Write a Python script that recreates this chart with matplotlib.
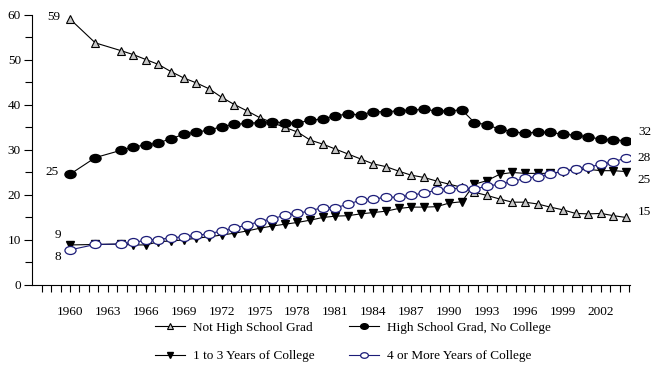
import numpy as np
import matplotlib
matplotlib.use("Agg")
from matplotlib import pyplot as plt
from matplotlib.path import Path
from matplotlib.transforms import Affine2D

plt.rcParams['font.family'] = ['Liberation Serif', 'DejaVu Serif']

years = [1960, 1962] + list(range(1964, 2005))

not_hs = [59.1, 53.8, 52.1, 51.2, 50.1, 49.0, 47.4, 46.0, 44.9, 43.6,
          41.7, 40.1, 38.7, 37.2, 36.1, 35.0, 34.0, 32.2, 31.3, 30.2,
          29.1, 28.0, 26.9, 26.3, 25.3, 24.4, 23.9, 23.1, 22.4, 21.7,
          20.6, 19.9, 19.1, 18.4, 18.4, 18.0, 17.3, 16.7, 15.9, 15.8,
          15.9, 15.4, 15.0]

hs_grad = [24.6, 28.3, 29.9, 30.7, 31.1, 31.6, 32.5, 33.5, 34.0, 34.4,
           35.2, 35.7, 35.9, 36.1, 36.3, 36.0, 36.0, 36.6, 36.9, 37.6,
           38.0, 37.8, 38.5, 38.5, 38.7, 38.9, 39.0, 38.7, 38.7, 38.9,
           36.1, 35.6, 34.6, 34.1, 33.7, 34.0, 33.9, 33.5, 33.3, 32.9,
           32.4, 32.2, 32.1]

some_college = [8.9, 9.0, 9.1, 8.9, 8.9, 9.6, 9.8, 10.0, 10.4, 10.7,
                11.1, 11.5, 12.0, 12.6, 13.1, 13.5, 13.9, 14.4, 15.0, 15.3,
                15.4, 15.8, 16.1, 16.4, 17.0, 17.3, 17.3, 17.4, 18.2, 18.5,
                22.4, 23.2, 24.6, 25.0, 24.8, 24.8, 24.8, 25.2, 25.6, 25.7,
                25.4, 25.4, 25.2]

college4 = [7.8, 9.0, 9.1, 9.5, 9.9, 10.1, 10.5, 10.7, 11.0, 11.4,
            12.0, 12.7, 13.3, 14.1, 14.7, 15.5, 15.9, 16.5, 17.2, 17.2,
            17.9, 18.9, 19.1, 19.5, 19.5, 20.0, 20.4, 21.1, 21.3, 21.6,
            21.3, 22.0, 22.4, 23.0, 23.7, 24.1, 24.6, 25.3, 25.8, 26.2,
            26.8, 27.4, 28.2]

tick_years = list(range(1960, 2003, 3))

# flattened circle marker like the original
ellipse = Affine2D().scale(1.0, 0.72).transform_path(Path.unit_circle())

fig = plt.figure(figsize=(6.68, 3.74), dpi=100)
ax = fig.add_axes([0.048, 0.238, 0.895, 0.722])

navy = '#1c1c78'
ax.plot(years, not_hs, color='black', lw=0.8, marker='^', ms=5.5,
        mfc='#c8c8c8', mec='black', mew=0.8, label='Not High School Grad')
ax.plot(years, some_college, color='black', lw=0.8, marker='v', ms=5.5,
        mfc='black', mec='black', label='1 to 3 Years of College')
ax.plot(years, hs_grad, color='black', lw=0.8, marker=ellipse, ms=8,
        mfc='black', mec='black', label='High School Grad, No College')
ax.plot(years, college4, color=navy, lw=0.8, marker=ellipse, ms=8,
        mfc='white', mec=navy, mew=0.9, label='4 or More Years of College')

ax.set_xlim(1957, 2004.3)
ax.set_ylim(0, 60)
ax.spines['top'].set_visible(False)
ax.spines['right'].set_visible(False)
ax.spines['left'].set_linewidth(0.8)
ax.spines['bottom'].set_linewidth(0.8)

ax.set_xticks(tick_years)
ax.set_xticklabels([str(y) for y in tick_years])
ax.set_xticks(np.arange(1957.75, 2004.3, 0.75), minor=True)
ax.set_yticks(range(0, 61, 10))
ax.set_yticks(range(5, 60, 10), minor=True)
ax.tick_params(axis='both', which='both', direction='out', width=0.8,
               labelsize=9.5)
ax.tick_params(axis='x', which='major', length=5, pad=10)
ax.tick_params(axis='x', which='minor', length=5)
ax.tick_params(axis='y', which='major', length=6, pad=2)
ax.tick_params(axis='y', which='minor', length=5)

# end labels
ax.text(1959.2, 59.5, '59', fontsize=9.5, ha='right', va='center')
ax.text(1959.1, 25.0, '25', fontsize=9.5, ha='right', va='center')
ax.text(1959.3, 11.1, '9', fontsize=9.5, ha='right', va='center')
ax.text(1959.3, 6.3, '8', fontsize=9.5, ha='right', va='center')
ax.text(2005.0, 34.0, '32', fontsize=9.5, ha='left', va='center')
ax.text(2004.9, 28.3, '28', fontsize=9.5, ha='left', va='center')
ax.text(2004.9, 23.3, '25', fontsize=9.5, ha='left', va='center')
ax.text(2004.9, 16.2, '15', fontsize=9.5, ha='left', va='center')
for t in ax.texts:
    t.set_clip_on(False)

fig.legend(loc='lower center', bbox_to_anchor=(0.528, 0.0), ncol=2,
           frameon=False, fontsize=9.5, handlelength=2.3, handletextpad=0.6,
           columnspacing=2.6, labelspacing=1.2, markerscale=0.7)

fig.savefig('out.png', dpi=100)
